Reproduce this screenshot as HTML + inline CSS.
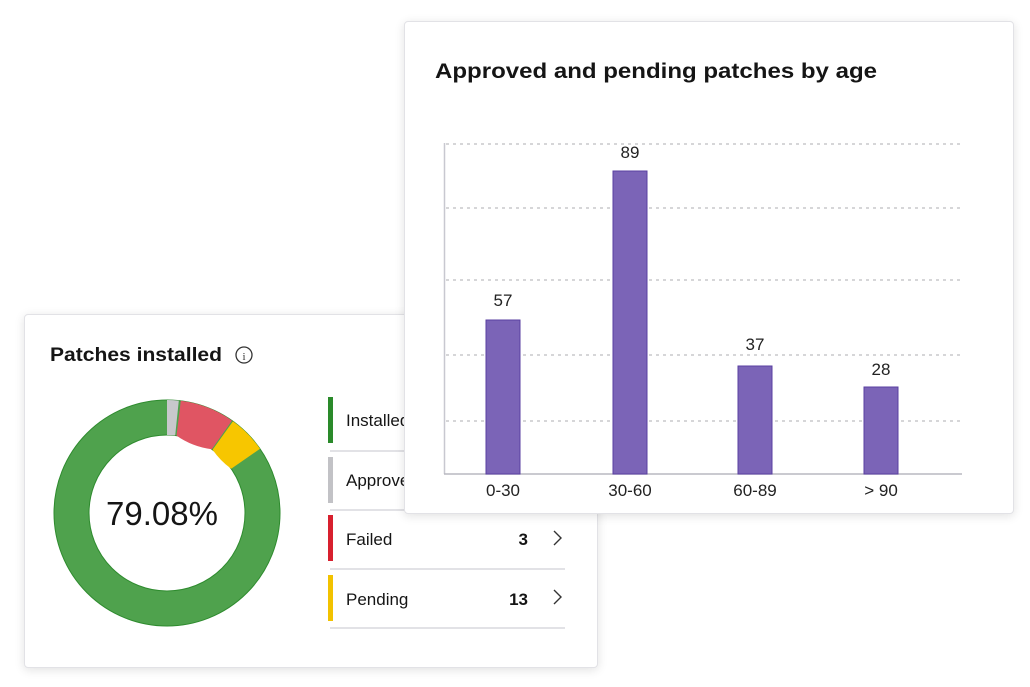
<!DOCTYPE html>
<html><head><style>
body{margin:0;width:1030px;height:687px;background:#fff;position:relative;overflow:hidden;font-family:"Liberation Sans",sans-serif;}
.card{position:absolute;background:#fff;border:1px solid #e2e2e6;border-radius:4px;box-shadow:0 2px 10px rgba(0,0,0,0.12);}
</style></head><body>
<div class="card" style="left:24px;top:314px;width:572px;height:352px;"></div>
<svg style="position:absolute;left:0;top:0" width="1030" height="687">
<text x="50" y="361" font-size="19" font-weight="bold" fill="#151515" font-family="Liberation Sans" textLength="172" lengthAdjust="spacingAndGlyphs">Patches installed</text>
<circle cx="244" cy="355" r="8" fill="none" stroke="#333" stroke-width="1.3"/>
<text x="244" y="360" font-size="11" text-anchor="middle" fill="#333" font-family="Liberation Serif">i</text>
<g transform="translate(167,513)">
<circle r="95.5" fill="none" stroke="#4fa24d" stroke-width="35"/>
<circle r="113" fill="none" stroke="#2e8b2e" stroke-width="1"/>
<circle r="78" fill="none" stroke="#2e8b2e" stroke-width="1"/>
<path d="M0,-113 A113,113 0 0 1 11.8,-112.4 L8.2,-77.6 A78,78 0 0 1 0,-78Z" fill="#c8c8cc"/>
<path d="M13.8,-112.2 A113,113 0 0 1 65,-92.4 L44.8,-63.8 A78,78 0 0 1 9.5,-77.4Z" fill="#e05563"/>
<path d="M66,-91.7 A113,113 0 0 1 93,-64.2 L64.2,-44.3 A78,78 0 0 1 45.6,-63.3Z" fill="#f7c600"/>
<text x="-5" y="12" font-size="33" text-anchor="middle" fill="#151515" font-family="Liberation Sans">79.08%</text>
</g>
<rect x="328" y="397" width="5" height="46" fill="#2a8a2a"/>
<rect x="328" y="457" width="5" height="46" fill="#c2c2c6"/>
<rect x="328" y="515" width="5" height="46" fill="#d8202e"/>
<rect x="328" y="575" width="5" height="46" fill="#f2c200"/>
<g stroke="#e2e2e6" stroke-width="2"><line x1="330" y1="451" x2="565" y2="451"/><line x1="330" y1="510" x2="565" y2="510"/><line x1="330" y1="569" x2="565" y2="569"/><line x1="330" y1="628" x2="565" y2="628"/></g>
<g font-size="17" fill="#151515" font-family="Liberation Sans">
<text x="346" y="426">Installed</text><text x="346" y="486">Approved</text>
<text x="346" y="545">Failed</text><text x="346" y="605">Pending</text>
<text x="528" y="545" text-anchor="end" font-weight="bold">3</text>
<text x="528" y="605" text-anchor="end" font-weight="bold">13</text>
</g>
<g fill="none" stroke="#333" stroke-width="1.4"><path d="M554,531 L561,538 L554,545"/><path d="M554,590 L561,597 L554,604"/></g>
</svg>
<div class="card" style="left:404px;top:21px;width:608px;height:491px;"></div>
<svg style="position:absolute;left:0;top:0" width="1030" height="687">
<text x="435" y="78" font-size="21" font-weight="bold" fill="#151515" font-family="Liberation Sans" textLength="442" lengthAdjust="spacingAndGlyphs">Approved and pending patches by age</text>
<g stroke="#c8c8cc" stroke-width="1.5" stroke-dasharray="3,4">
<line x1="446" y1="144" x2="962" y2="144"/><line x1="446" y1="208" x2="962" y2="208"/>
<line x1="446" y1="280" x2="962" y2="280"/><line x1="446" y1="355" x2="962" y2="355"/>
<line x1="446" y1="421" x2="962" y2="421"/></g>
<line x1="444.5" y1="143" x2="444.5" y2="474" stroke="#c8c8d0" stroke-width="1.5"/>
<line x1="444" y1="474" x2="962" y2="474" stroke="#b8b8c0" stroke-width="1.5"/>
<g fill="#7b64b7" stroke="#5a3fa0" stroke-width="1">
<rect x="486" y="320" width="34" height="154"/><rect x="613" y="171" width="34" height="303"/>
<rect x="738" y="366" width="34" height="108"/><rect x="864" y="387" width="34" height="87"/></g>
<g font-size="17" fill="#222" text-anchor="middle" font-family="Liberation Sans">
<text x="503" y="306">57</text><text x="630" y="158">89</text><text x="755" y="350">37</text><text x="881" y="375">28</text>
<text x="503" y="496">0-30</text><text x="630" y="496">30-60</text><text x="755" y="496">60-89</text><text x="881" y="496">&gt; 90</text>
</g>
</svg>
</body></html>
